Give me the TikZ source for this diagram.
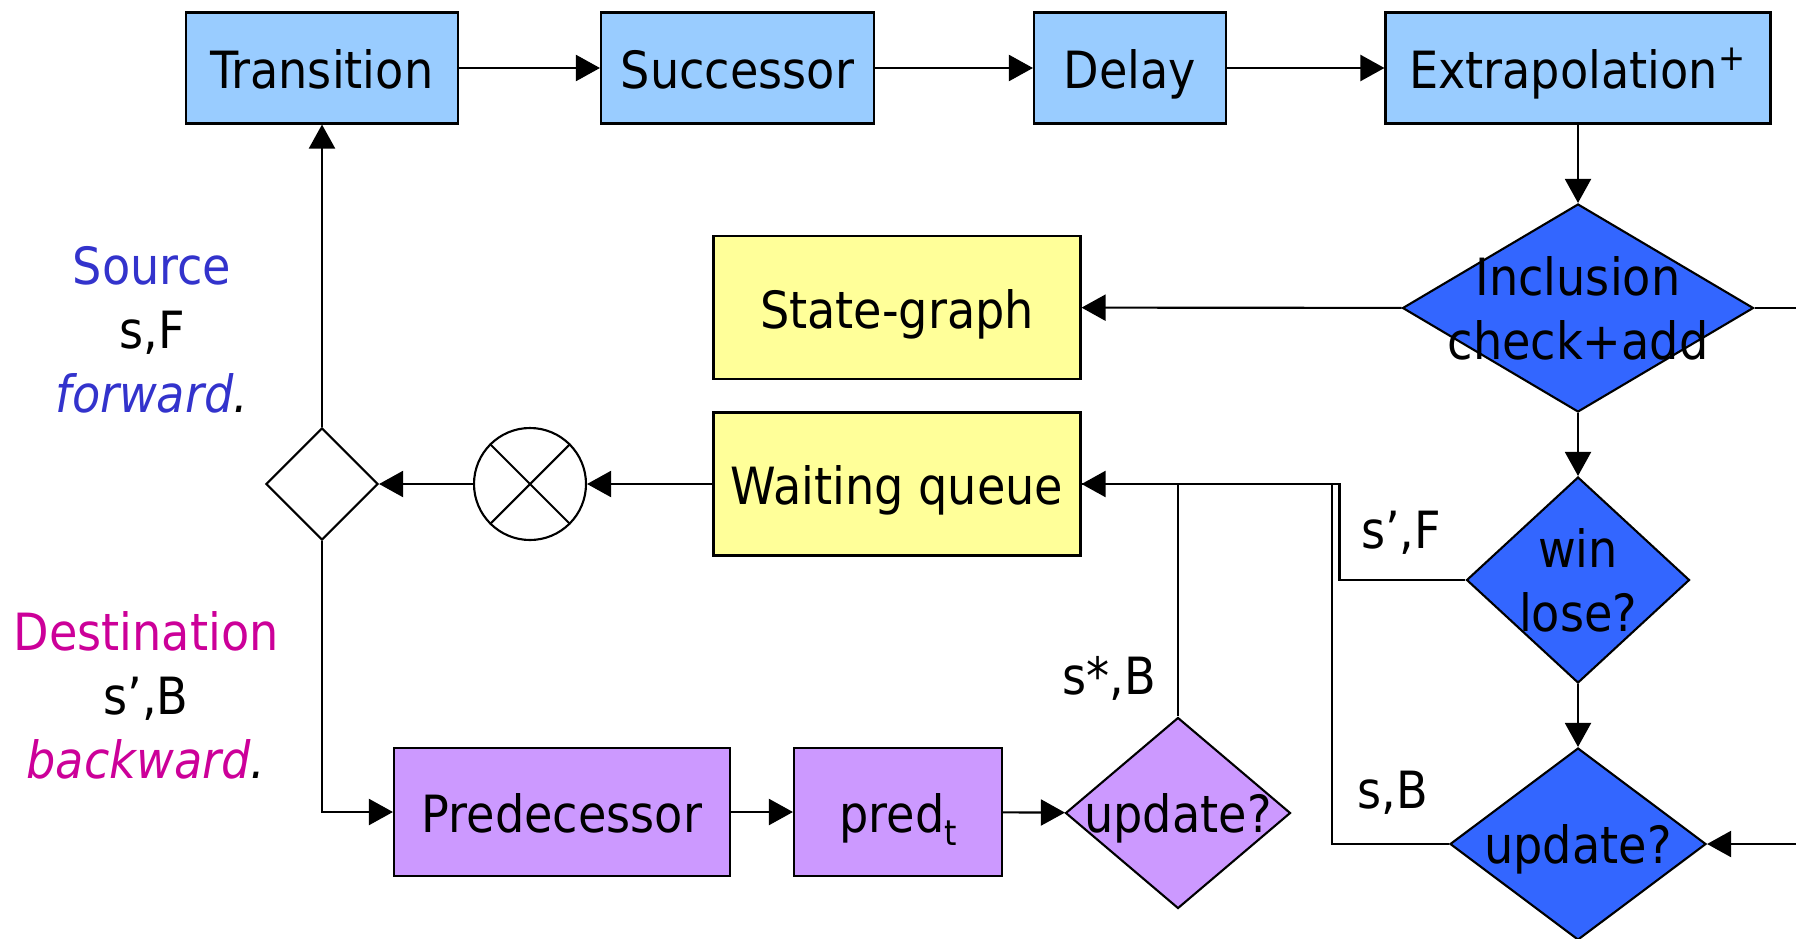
\documentclass[tikz,border=0pt]{standalone}
\usepackage{fontspec}
\setmainfont{DejaVu Sans Condensed}
\usetikzlibrary{arrows.meta,shapes.geometric}

\definecolor{stepblue}{HTML}{99CCFF}
\definecolor{testblue}{HTML}{3366FF}
\definecolor{storeyellow}{HTML}{FFFF99}
\definecolor{backviolet}{HTML}{CC99FF}
\definecolor{srcblue}{HTML}{3333CC}
\definecolor{dstpink}{HTML}{CC0099}

\begin{document}
\begin{tikzpicture}[
  line width=0.6pt,
  >={Triangle[length=2.4mm,width=2.6mm]},
  every node/.style={font=\fontsize{14.6}{18.2}\selectfont},
  boxtext/.style={inner sep=0pt,text height=11.9pt,text depth=0pt},
  fwdbox/.style={rectangle,draw,fill=stepblue,boxtext,minimum height=11.1mm},
  store/.style={rectangle,draw,fill=storeyellow,boxtext,minimum width=36.7mm,minimum height=14.3mm},
  bwdbox/.style={rectangle,draw,fill=backviolet,boxtext,minimum height=12.8mm},
  test/.style={diamond,draw,fill=testblue,inner sep=0pt},
  bwdtest/.style={diamond,draw,fill=backviolet,inner sep=0pt},
  inside/.style={align=center,text depth=0pt}
]
\useasboundingbox (0,0) rectangle (17.96,-9.38);

% forward chain
\node[fwdbox,minimum width=27.2mm] (trans) at (3.22,-0.68) {Transition};
\node[fwdbox,minimum width=27.3mm] (succ) at (7.375,-0.68) {Successor};
\node[fwdbox,minimum width=19.2mm] (delay) at (11.30,-0.68) {Delay};
\node[fwdbox,minimum width=38.5mm] (extra) at (15.78,-0.68) {Extrapolation\textsuperscript{+}};

\node[test,minimum width=35.1mm,minimum height=20.8mm,
  label={[inside]center:Inclusion\\check+add}] (incl) at (15.78,-3.08) {};
\node[test,minimum width=22.3mm,minimum height=20.6mm,
  label={[inside]center:win\\lose?}] (win) at (15.78,-5.80) {};
\node[test,minimum width=25.6mm,minimum height=19.2mm,
  label={[inside]center:update?}] (upd) at (15.78,-8.44) {};

\node[store] (graph) at (8.97,-3.075) {State-graph};
\node[store] (queue) at (8.97,-4.84) {Waiting queue};

\node[circle,draw,inner sep=0pt,minimum size=11.2mm] (mix) at (5.30,-4.84) {};
\draw (mix.north east) -- (mix.south west) (mix.north west) -- (mix.south east);
\node[diamond,draw,inner sep=0pt,minimum width=11.2mm,minimum height=11.2mm] (sel) at (3.22,-4.84) {};

% backward chain
\node[bwdbox,minimum width=33.6mm] (pred) at (5.62,-8.12) {Predecessor};
\node[bwdbox,minimum width=20.8mm] (predt) at (8.98,-8.12)
  {pred\raisebox{-0.45ex}{\fontsize{10}{12}\selectfont t}};
\node[bwdtest,minimum width=22.5mm,minimum height=19.1mm,
  label={[inside]center:update?}] (bupd) at (11.78,-8.13) {};

\coordinate (rimA) at (17.96,-3.08);
\coordinate (rimB) at (17.96,-8.44);

\node[inside] (srctxt) at (1.52,-3.29)
  {\textcolor{srcblue}{Source}\\s,F\\\textcolor{srcblue}{\itshape forward}\textit{.}};
\node[inside] (dsttxt) at (1.46,-6.95)
  {\textcolor{dstpink}{Destination}\\s’,B\\\textcolor{dstpink}{\itshape backward}\textit{.}};
\node (lsf) at (14.01,-5.33) {s’,F};
\node (lsb) at (13.93,-7.93) {s,B};
\node (lsstar) at (11.09,-6.78) {s*,B};

\draw[->] (trans) -- (succ);
\draw[->] (succ) -- (delay);
\draw[->] (delay) -- (extra);
\draw[->] (extra) -- (incl);
\draw[->] (incl) -- (graph);
\draw (incl.east) -- (rimA);
\draw[->] (incl) -- (win);
\draw[->] (win) -- (upd);
\draw[->] (rimB) -- (upd.east);
\draw[->] (win.west) -- ++(-1.26,0) |- (queue.east);
\draw (upd.west) -- ++(-1.17,0) |- (queue.east);
\draw (bupd.north) |- (queue.east);
\draw[->] (queue) -- (mix);
\draw[->] (mix) -- (sel);
\draw[->] (sel) -- (trans);
\draw[->] (sel.south) |- (pred.west);
\draw[->] (pred) -- (predt);
\draw[->] (predt) -- (bupd);
\end{tikzpicture}
\end{document}
